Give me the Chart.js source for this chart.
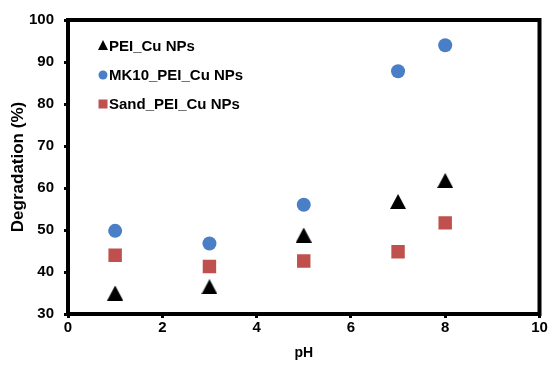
<!DOCTYPE html>
<html>
<head>
<meta charset="utf-8">
<script src="https://cdn.jsdelivr.net/npm/chart.js@4/dist/chart.umd.min.js"></script>
<style>
  html, body { margin: 0; padding: 0; background: #fff; }
  canvas { display: block; }
</style>
</head>
<body>
<canvas id="chart" width="549" height="370"></canvas>
<script>
// values
const phValues = [1, 3, 5, 7, 8];
const peiCu = [35, 36.5, 48.8, 56.8, 61.8];
const mk10PeiCu = [49.8, 46.8, 56, 87.8, 94];
const sandPeiCu = [44, 41.3, 42.6, 44.8, 51.7];
const seriesNames = ['PEI_Cu NPs', 'MK10_PEI_Cu NPs', 'Sand_PEI_Cu NPs'];

const FONT = "'Liberation Sans', Arial, sans-serif";

const toPoints = ys => phValues.map((x, i) => ({ x, y: ys[i] }));

// Excel-style triangle: centred on its bounding box, not its circumcentre
function makeTriangle(w, h, color) {
    const c = document.createElement('canvas');
    c.width = w; c.height = h;
    const g = c.getContext('2d');
    g.fillStyle = color;
    g.beginPath();
    g.moveTo(w / 2, 0);
    g.lineTo(w, h);
    g.lineTo(0, h);
    g.closePath();
    g.fill();
    return c;
}
const triangleMarker = makeTriangle(16, 15, '#000000');

// thick black box around the plot + legend inside the plot area
const framePlugin = {
    id: 'frame',
    beforeDatasetsDraw(chart) {
        const { ctx, chartArea: a } = chart;
        ctx.save();
        ctx.strokeStyle = '#000';
        ctx.lineWidth = 4;
        ctx.strokeRect(a.left, a.top, a.right - a.left, a.bottom - a.top);
        ctx.restore();
    },
    afterDraw(chart) {
        const { ctx, chartArea: a } = chart;
        const rows = [26, 55, 84];
        const kinds = ['triangle', 'circle', 'rect'];
        ctx.save();
        ctx.font = `bold 15px ${FONT}`;
        ctx.textBaseline = 'middle';
        chart.data.datasets.forEach((ds, i) => {
            const y = a.top + rows[i];
            const mx = a.left + 35;
            ctx.fillStyle = ds.backgroundColor;
            ctx.beginPath();
            if (kinds[i] === 'triangle') {
                ctx.moveTo(mx, y - 6);
                ctx.lineTo(mx + 5, y + 4);
                ctx.lineTo(mx - 5, y + 4);
                ctx.closePath();
            } else if (kinds[i] === 'circle') {
                ctx.arc(mx, y, 4.5, 0, Math.PI * 2);
            } else {
                ctx.rect(mx - 4.5, y - 4.5, 9, 9);
            }
            ctx.fill();
            ctx.fillStyle = '#000';
            ctx.fillText(ds.label, a.left + 41, y + 1);
        });
        ctx.restore();
    }
};

new Chart(document.getElementById('chart'), {
    type: 'scatter',
    data: {
        datasets: [
            { label: seriesNames[0], data: toPoints(peiCu), pointStyle: triangleMarker, pointRadius: 9, backgroundColor: '#000000', borderColor: '#000000', borderWidth: 0 },
            { label: seriesNames[1], data: toPoints(mk10PeiCu), pointStyle: 'circle', pointRadius: 7, backgroundColor: '#4A7EC6', borderColor: '#4A7EC6', borderWidth: 0 },
            { label: seriesNames[2], data: toPoints(sandPeiCu), pointStyle: 'rect', pointRadius: 9.5, backgroundColor: '#C0504D', borderColor: '#C0504D', borderWidth: 0 }
        ]
    },
    options: {
        responsive: false,
        animation: false,
        devicePixelRatio: 1,
        layout: { padding: { top: 20, right: 9, left: 0, bottom: 0 } },
        plugins: { legend: { display: false }, tooltip: { enabled: false } },
        scales: {
            x: {
                type: 'linear', min: 0, max: 10,
                ticks: { stepSize: 2, color: '#000', padding: 1, font: { family: FONT, size: 15, weight: 'bold' } },
                grid: { drawOnChartArea: false, tickLength: 4, tickColor: '#000', tickWidth: 3 },
                border: { display: false },
                title: { display: true, text: 'pH', color: '#000', padding: { top: 0, bottom: 8 }, font: { family: FONT, size: 14, weight: 'bold' } },
                afterFit(scale) { scale.height = 56; }
            },
            y: {
                type: 'linear', min: 30, max: 100,
                ticks: { stepSize: 10, color: '#000', padding: 10, font: { family: FONT, size: 15, weight: 'bold' } },
                grid: { drawOnChartArea: false, tickLength: 4, tickColor: '#000', tickWidth: 3 },
                border: { display: false },
                title: { display: true, text: 'Degradation (%)', color: '#000', padding: { top: 8, bottom: 0 }, font: { family: FONT, size: 17, weight: 'bold' } },
                afterFit(scale) { scale.width = 68; }
            }
        }
    },
    plugins: [framePlugin]
});
</script>
</body>
</html>
